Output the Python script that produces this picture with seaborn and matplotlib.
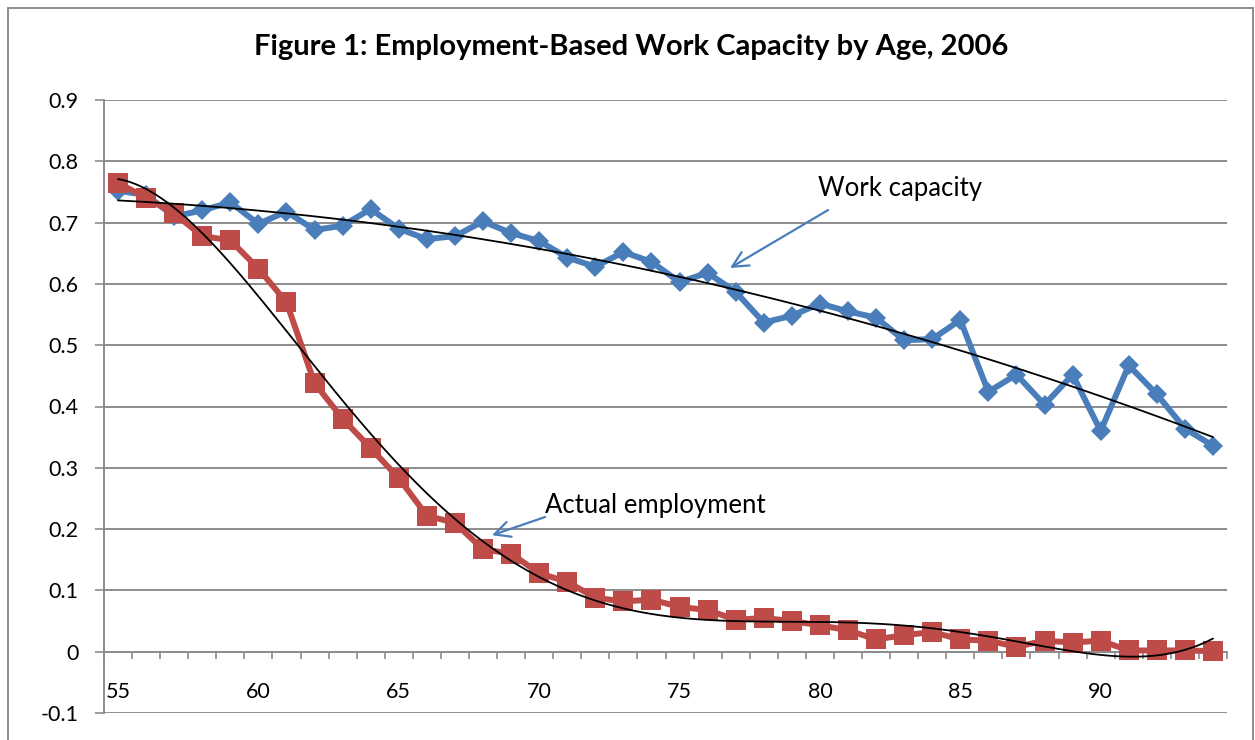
import numpy as np
import pandas as pd
import matplotlib
matplotlib.use("Agg")
import matplotlib.pyplot as plt
import matplotlib.transforms as mtransforms
from matplotlib.patches import Rectangle
import seaborn as sns

ages = list(range(55, 95))
work_capacity = [0.752, 0.745, 0.710, 0.720, 0.733, 0.698, 0.718, 0.688, 0.695, 0.722,
                 0.690, 0.673, 0.678, 0.702, 0.683, 0.670, 0.643, 0.628, 0.652, 0.636,
                 0.603, 0.618, 0.587, 0.537, 0.548, 0.568, 0.555, 0.545, 0.508, 0.510,
                 0.541, 0.424, 0.452, 0.403, 0.452, 0.360, 0.467, 0.420, 0.364, 0.336]
employment = [0.765, 0.740, 0.715, 0.678, 0.671, 0.625, 0.570, 0.438, 0.380, 0.332,
              0.283, 0.222, 0.210, 0.167, 0.160, 0.128, 0.114, 0.088, 0.082, 0.085,
              0.073, 0.068, 0.052, 0.055, 0.050, 0.043, 0.035, 0.020, 0.027, 0.032,
              0.020, 0.018, 0.008, 0.018, 0.015, 0.018, 0.002, 0.002, 0.002, 0.001]
y_ticks = [-0.1, 0.0, 0.1, 0.2, 0.3, 0.4, 0.5, 0.6, 0.7, 0.8, 0.9]
y_tick_labels = ["-0.1", "0", "0.1", "0.2", "0.3", "0.4", "0.5", "0.6", "0.7", "0.8", "0.9"]
x_ticks = [55, 60, 65, 70, 75, 80, 85, 90]
title = "Figure 1: Employment-Based Work Capacity by Age, 2006"
label_wc = "Work capacity"
label_em = "Actual employment"

BLUE = "#4A7EBB"
RED = "#BE4B48"
GRID = "#8C8C8C"
FONT = ["Lato", "DejaVu Sans"]

sns.set_theme(style="white")
plt.rcParams["font.family"] = FONT

fig = plt.figure(figsize=(12.55, 7.4), dpi=100)
ax = fig.add_axes([104 / 1255, 1 - 713 / 740, (1227 - 104) / 1255, (713 - 100) / 740])

df_wc = pd.DataFrame({"age": ages, "value": work_capacity})
df_em = pd.DataFrame({"age": ages, "value": employment})

sns.lineplot(data=df_wc, x="age", y="value", ax=ax, color=BLUE, lw=4.3,
             marker="D", markersize=10.5, markeredgecolor=BLUE, markeredgewidth=0,
             zorder=3)
sns.lineplot(data=df_em, x="age", y="value", ax=ax, color=RED, lw=4.3,
             marker="s", markersize=14.5, markeredgecolor=RED, markeredgewidth=0,
             zorder=4)

# polynomial trendlines (Excel-style, x = category index)
xi = np.arange(1, len(ages) + 1)
p_wc = np.polynomial.Polynomial.fit(xi, work_capacity, 2)
p_em = np.polynomial.Polynomial.fit(xi, employment, 5)
xd = np.linspace(1, len(ages), 400)
age_d = ages[0] + (xd - 1)
sns.lineplot(x=age_d, y=p_wc(xd), ax=ax, color="black", lw=1.3, zorder=6)
sns.lineplot(x=age_d, y=p_em(xd), ax=ax, color="black", lw=1.3, zorder=6)

ax.set_xlim(ages[0] - 0.5, ages[-1] + 0.5)
ax.set_ylim(-0.1, 0.9)
ax.set_yticks(y_ticks)
ax.set_yticklabels(y_tick_labels)
ax.set_xticks(x_ticks)
ax.set_xticklabels([])
ax.set_xticks(np.arange(ages[0] - 0.5, ages[-1] + 1.0, 1.0), minor=True)
ax.set_xlabel("")
ax.set_ylabel("")

ax.grid(axis="y", color=GRID, lw=1.4)
ax.grid(axis="x", visible=False)
ax.set_axisbelow(True)
for s in ["top", "right"]:
    ax.spines[s].set_visible(False)
ax.spines["left"].set_color(GRID)
ax.spines["left"].set_linewidth(1.4)
ax.spines["bottom"].set_position(("data", 0))
ax.spines["bottom"].set_color(GRID)
ax.spines["bottom"].set_linewidth(1.4)
ax.spines["bottom"].set_zorder(2)

ax.tick_params(axis="y", which="major", left=True, length=6.5, width=1.2, color=GRID,
               direction="out", pad=12, labelsize=15.5, labelcolor="black")
ax.tick_params(axis="x", which="minor", bottom=True, length=5, width=1.2, color=GRID,
               direction="out")
ax.tick_params(axis="x", which="major", bottom=False, length=0)

# category labels placed low, as in the original (Excel "low" label position)
lbl_trans = mtransforms.blended_transform_factory(ax.transData, ax.transAxes)
for v in x_ticks:
    ax.text(v, 0.034, str(v), transform=lbl_trans, ha="center", va="center",
            fontsize=15.5, color="black")

# annotations: text + separate arrows
ax.text(79.93, 0.755, label_wc, fontsize=18.5, color="black", ha="left", va="center",
        zorder=8)
ax.annotate("", xy=(76.8, 0.626), xytext=(80.29, 0.7205),
            arrowprops=dict(arrowstyle="->", color=BLUE, lw=1.6,
                            mutation_scale=28, shrinkA=0, shrinkB=0), zorder=8)
ax.text(70.2, 0.238, label_em, fontsize=18.5, color="black", ha="left", va="center",
        zorder=8)
ax.annotate("", xy=(68.32, 0.190), xytext=(70.21, 0.2197),
            arrowprops=dict(arrowstyle="->", color=BLUE, lw=1.6,
                            mutation_scale=28, shrinkA=0, shrinkB=0), zorder=8)

fig.text(0.503, 1 - 47 / 740, title, ha="center", va="center",
         fontsize=21, fontweight="bold", color="black")

fig.patches.append(Rectangle((8 / 1255, -0.05), 1245 / 1255, 1.05 - 8 / 740,
                             transform=fig.transFigure, fill=False,
                             edgecolor=GRID, lw=1.4, zorder=0))

fig.savefig("out.png", dpi=100)
